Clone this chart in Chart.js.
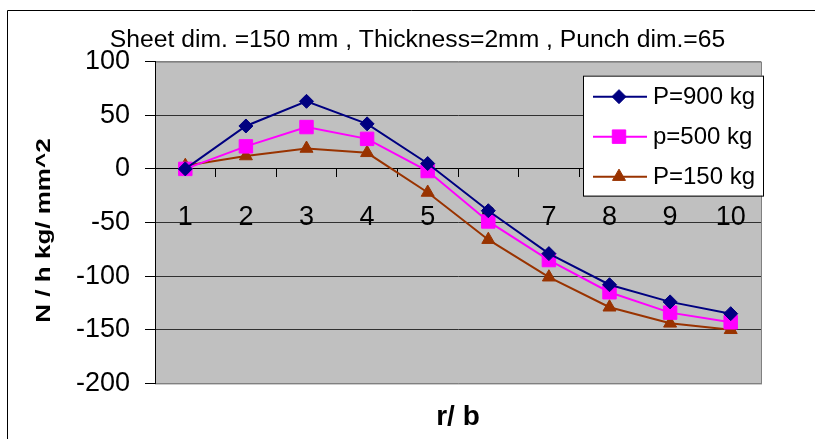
<!DOCTYPE html>
<html>
<head>
<meta charset="utf-8">
<script src="https://cdn.jsdelivr.net/npm/chart.js@4.4.0/dist/chart.umd.min.js"></script>
<style>
  html, body { margin: 0; padding: 0; background: #fff; }
  #wrap { width: 815px; height: 439px; }
</style>
</head>
<body>
<div id="wrap"><canvas id="myChart" width="815" height="439"></canvas></div>
<script>
const categories = ['1', '2', '3', '4', '5', '6', '7', '8', '9', '10'];
const p900 = [0, 40, 63, 42, 5, -39, -79, -108, -124, -135];
const p500 = [0, 21, 39, 28, -2, -49, -85, -115, -134, -143];
const p150 = [3, 12, 19, 15, -22, -66, -101, -129, -144, -150];
const seriesNames = ['P=900 kg', 'p=500 kg', 'P=150 kg'];
const yTicks = [-200, -150, -100, -50, 0, 50, 100];
const titleText = 'Sheet dim. =150 mm , Thickness=2mm , Punch dim.=65';
const yTitle = 'N / h kg/ mm^2';

Chart.defaults.font.family = '"Liberation Sans", Arial, sans-serif';
Chart.defaults.color = '#000';

// white page, outer frame and grey plot area
const plotBg = {
  id: 'plotBg',
  beforeDraw(chart) {
    const { ctx, chartArea: a } = chart;
    ctx.save();
    ctx.fillStyle = '#fff';
    ctx.fillRect(0, 0, chart.width, chart.height);
    ctx.strokeStyle = '#000';
    ctx.lineWidth = 1;
    ctx.beginPath();
    ctx.moveTo(7.5, chart.height);
    ctx.lineTo(7.5, 10.5);
    ctx.lineTo(chart.width, 10.5);
    ctx.stroke();
    ctx.fillStyle = '#c0c0c0';
    ctx.fillRect(a.left, a.top, a.right - a.left, a.bottom - a.top);
    ctx.strokeStyle = '#808080';
    ctx.strokeRect(a.left + 0.5, a.top + 0.5, a.right - a.left, a.bottom - a.top);
    ctx.restore();
  },
  // the original y title is stretched along its length
  afterDraw(chart) {
    const { ctx, chartArea: a } = chart;
    ctx.save();
    ctx.translate(44, (a.top + a.bottom) / 2 + 8);
    ctx.rotate(-Math.PI / 2);
    ctx.scale(1.3, 1);
    ctx.font = 'bold 20px "Liberation Sans", Arial, sans-serif';
    ctx.fillStyle = '#000';
    ctx.textAlign = 'center';
    ctx.textBaseline = 'middle';
    ctx.fillText(yTitle, 0, 0);
    ctx.restore();
  }
};

// boxed legend inside the plot, line + marker like the original
const boxLegend = {
  id: 'boxLegend',
  afterDraw(chart) {
    const { ctx, chartArea: a } = chart;
    const x = a.right - 178, y = a.top + 14, w = 180, h = 120;
    ctx.save();
    ctx.fillStyle = '#fff';
    ctx.fillRect(x, y, w, h);
    ctx.strokeStyle = '#000';
    ctx.lineWidth = 1;
    ctx.strokeRect(x + 0.5, y + 0.5, w, h);
    ctx.font = '24px "Liberation Sans", Arial, sans-serif';
    ctx.textBaseline = 'middle';
    chart.data.datasets.forEach((ds, i) => {
      const ry = y + 21 + i * 40;
      ctx.strokeStyle = ds.borderColor;
      ctx.lineWidth = 2;
      ctx.beginPath();
      ctx.moveTo(x + 10, ry);
      ctx.lineTo(x + 64, ry);
      ctx.stroke();
      ctx.fillStyle = ds.pointBackgroundColor;
      ctx.lineWidth = 1;
      Chart.helpers.drawPoint(ctx, { pointStyle: ds.pointStyle, radius: ds.pointRadius, borderWidth: 1, rotation: 0 }, x + 36, ry);
      ctx.fillStyle = '#000';
      ctx.fillText(ds.label, x + 70, ry + 1);
    });
    ctx.restore();
  }
};

const ctx = document.getElementById('myChart').getContext('2d');
// eslint-disable-next-line
var myChart = new Chart(ctx, {
  type: 'line',
  data: {
    labels: categories,
    datasets: [
      {
        label: seriesNames[0], data: p900,
        borderColor: '#000080', backgroundColor: '#000080', pointBackgroundColor: '#000080',
        borderWidth: 2, pointStyle: 'rectRot', pointRadius: 7, pointBorderWidth: 1, tension: 0,
      },
      {
        label: seriesNames[1], data: p500,
        borderColor: '#ff00ff', backgroundColor: '#ff00ff', pointBackgroundColor: '#ff00ff',
        borderWidth: 2, pointStyle: 'rect', pointRadius: 9.5, pointBorderWidth: 1, tension: 0,
      },
      {
        label: seriesNames[2], data: p150,
        borderColor: '#993300', backgroundColor: '#993300', pointBackgroundColor: '#993300',
        borderWidth: 2, pointStyle: 'triangle', pointRadius: 7.5, pointBorderWidth: 1, tension: 0,
      },
    ],
  },
  options: {
    responsive: false,
    animation: false,
    layout: { padding: { left: 20, right: 0, top: 10, bottom: 0 } },
    plugins: {
      legend: { display: false },
      tooltip: { enabled: false },
      title: {
        display: true, text: titleText, color: '#000',
        font: { size: 24.7, weight: 'normal' }, padding: { top: 15, bottom: 7 },
      },
    },
    scales: {
      x: {
        type: 'category', position: { y: 0 }, offset: true,
        grid: { offset: true, drawOnChartArea: false, tickLength: 8, tickColor: '#000' },
        border: { color: '#000', width: 1 },
        ticks: { color: '#000', font: { size: 27 }, padding: 24, maxRotation: 0, autoSkip: false },
      },
      x2: {
        type: 'category', position: 'bottom', offset: true,
        grid: { display: false, drawTicks: false },
        border: { display: false },
        ticks: { display: false },
        title: {
          display: true, text: 'r/ b', color: '#000',
          font: { size: 28, weight: 'bold' }, padding: { top: 17, bottom: 5 },
        },
      },
      y: {
        min: -200, max: 100,
        afterBuildTicks: s => { s.ticks = yTicks.map(v => ({ value: v })); },
        afterFit: s => { s.width = 135; },
        grid: {
          color: c => (c.tick && (c.tick.value === 100 || c.tick.value === -200)) ? '#808080' : '#303030',
          tickColor: '#000', tickLength: 10,
        },
        border: { color: '#000', width: 1 },
        ticks: { color: '#000', font: { size: 27 }, padding: 15 },
      },
      yRight: {
        type: 'linear', position: 'right', min: -200, max: 100,
        afterFit: s => { s.width = 54; },
        grid: { display: false, drawTicks: false },
        border: { display: false },
        ticks: { display: false },
      },
    },
  },
  plugins: [plotBg, boxLegend],
});
</script>
</body>
</html>
